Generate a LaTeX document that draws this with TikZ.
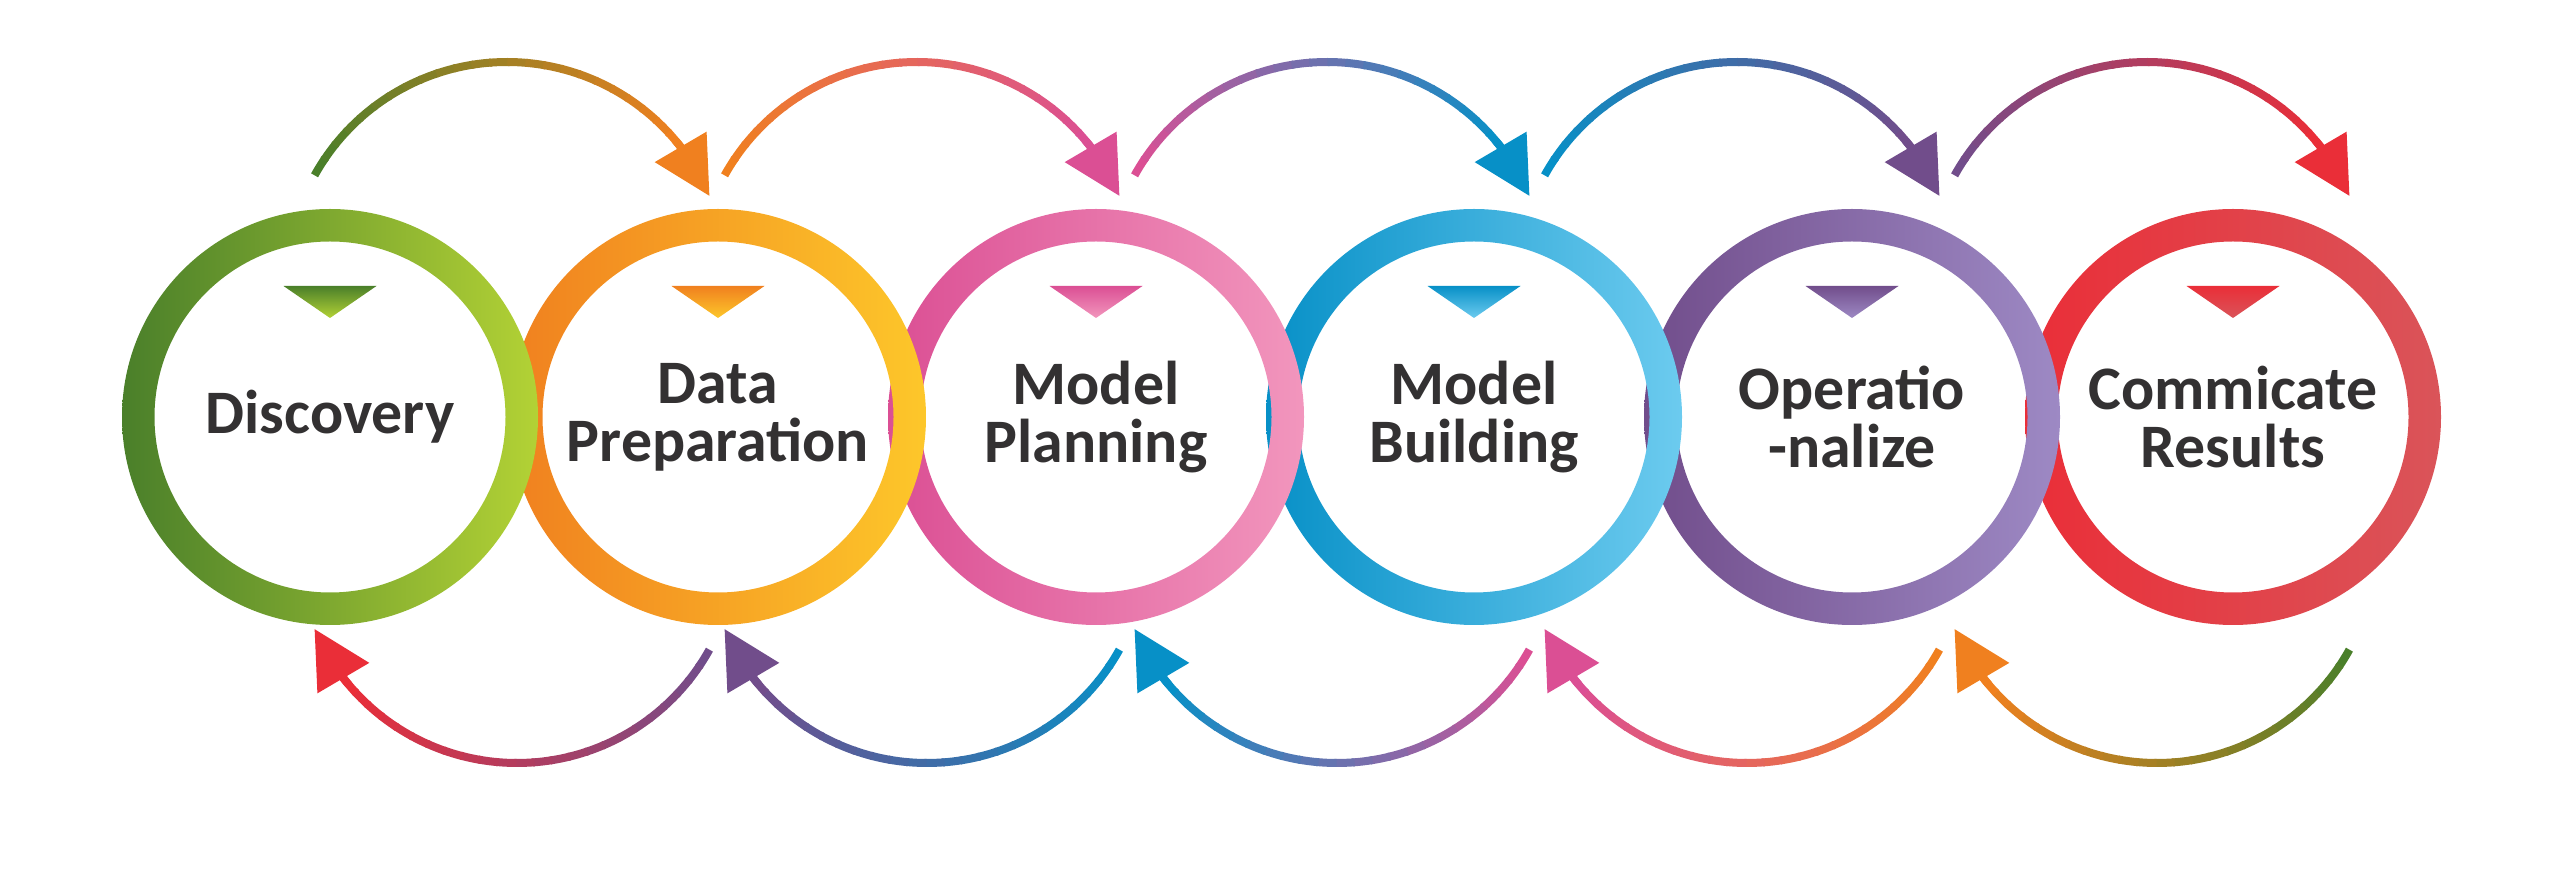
\documentclass[tikz,border=0pt]{standalone}
\usepackage{fontspec}
\setmainfont{Carlito}
\usetikzlibrary{arrows.meta,bending}

\definecolor{grnA}{HTML}{4A7F2A}
\definecolor{grnB}{HTML}{B3D235}
\definecolor{orgA}{HTML}{F0801F}
\definecolor{orgB}{HTML}{FDC72A}
\definecolor{pnkA}{HTML}{DB4F94}
\definecolor{pnkB}{HTML}{F296BD}
\definecolor{bluA}{HTML}{0790C7}
\definecolor{bluB}{HTML}{6CCBEF}
\definecolor{purA}{HTML}{714D8B}
\definecolor{purB}{HTML}{9D89C4}
\definecolor{redA}{HTML}{EA2E38}
\definecolor{redB}{HTML}{DA5459}
\definecolor{labtext}{HTML}{333132}

\tikzset{
  stage/.style={font=\bfseries\fontsize{17.6}{16.5}\selectfont, text=labtext,
    align=center, inner sep=0pt},
  arcline/.style={line width=0.8mm, line cap=butt},
  arrowhead/.style={-{Triangle[length=5.7mm,width=5.8mm]}}
}

\begin{document}
\begin{tikzpicture}
  \useasboundingbox (0,0) rectangle (25.6,8.89);
  % rings, right one first so the left one lies on top
  \foreach \x/\ca/\cb/\nm/\txt in {22.33/redA/redB/res/{Commicate\\Results},
      18.52/purA/purB/oper/{Operatio\\-nalize}, 14.74/bluA/bluB/build/{Model\\Building},
      10.96/pnkA/pnkB/plan/{Model\\Planning}, 7.18/orgA/orgB/prep/{Data\\Preparation},
      3.30/grnA/grnB/disc/{Discovery}}
  {
    \node[stage] (\nm) at (\x,4.72) {\txt};
    \shade[left color=\ca, right color=\cb, even odd rule]
      (\nm.center) circle (2.08) (\nm.center) circle (1.755);
    \shade[top color=\ca, bottom color=\cb]
      ([shift={(-0.465,1.31)}]\nm.center) -- ++(0.93,0) -- ++(-0.465,-0.32) -- cycle;
  }
  % arcs over the top (forward) and under the bottom (back)
  \foreach \ca/\cb [count=\k from 0] in {grnA/orgA, orgA/pnkA, pnkA/bluA, bluA/purA, purA/redA}
  {
    \pgfmathtruncatemacro\m{4-\k}
    \coordinate (up\k) at (5.07+4.1*\k, 6.07);
    \coordinate (lo\k) at (5.17+4.1*\m, 3.46);
    \foreach \s in {0,...,23}
    {
      \pgfmathsetmacro\a{151-4.7*\s}
      \pgfmathsetmacro\b{\a-5.3}
      \pgfmathtruncatemacro\p{100*\s/23}
      \draw[arcline, \cb!\p!\ca] ([shift={(\a:2.2)}]up\k)
        arc[start angle=\a, end angle=\b, radius=2.2];
      \draw[arcline, \cb!\p!\ca] ([shift={(\a+180:2.2)}]lo\k)
        arc[start angle=\a+180, end angle=\b+180, radius=2.2];
    }
    \draw[arcline, arrowhead, \cb] ([shift={(40:2.2)}]up\k)
      arc[start angle=40, end angle=23, radius=2.2];
    \draw[arcline, arrowhead, \cb] ([shift={(220:2.2)}]lo\k)
      arc[start angle=220, end angle=203, radius=2.2];
  }
\end{tikzpicture}
\end{document}
